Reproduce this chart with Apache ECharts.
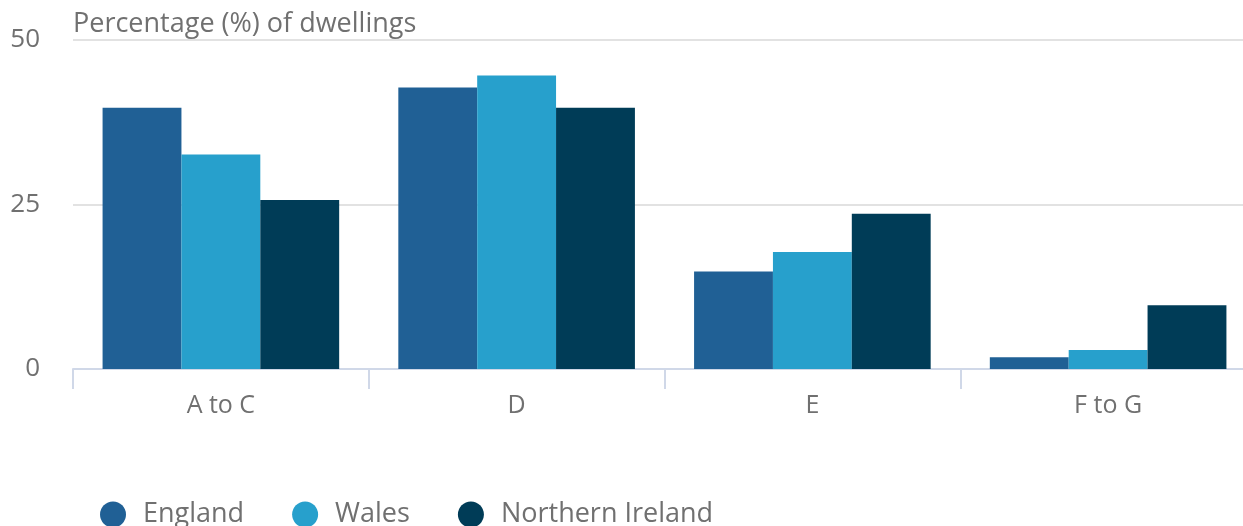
<!DOCTYPE html>
<html>
<head>
<meta charset="utf-8">
<script src="https://cdn.jsdelivr.net/npm/echarts@6/dist/echarts.min.js"></script>
<style>
  html, body { margin: 0; padding: 0; background: #fff; }
  #chart { width: 1243px; height: 526px; }
</style>
</head>
<body>
<div id="chart"></div>
<script>
var categories = ["A to C", "D", "E", "F to G"];
var seriesNames = ["England", "Wales", "Northern Ireland"];
var england = [39.7, 42.8, 14.8, 1.8];
var wales = [32.6, 44.6, 17.8, 2.9];
var northernIreland = [25.7, 39.7, 23.6, 9.7];
var yTicks = [0, 25, 50];
var colors = ["#206095", "#27a0cc", "#003c57"];

var chart = echarts.init(document.getElementById("chart"));
var font = "'Open Sans', sans-serif";
var values = [england, wales, northernIreland];
var series = [];
for (var i = 0; i < seriesNames.length; i++) {
  series.push({
    name: seriesNames[i],
    type: "bar",
    data: values[i],
    barGap: 0,
    barCategoryGap: "20%",
    itemStyle: { color: colors[i] },
    emphasis: { disabled: true }
  });
}

chart.setOption({
  animation: false,
  textStyle: { fontFamily: font },
  grid: { left: 73, top: 40, right: -13, height: 329, outerBoundsMode: "none", containLabel: false },
  legend: {
    data: seriesNames,
    left: 95,
    top: 496,
    icon: "circle",
    itemWidth: 26,
    itemHeight: 26,
    itemGap: 48,
    textStyle: { fontSize: 27, color: "#707070", fontFamily: font, padding: [0, 0, 0, 12] }
  },
  xAxis: {
    type: "category",
    data: categories,
    axisLine: { lineStyle: { color: "#d0d8e8", width: 2 } },
    axisTick: { show: true, length: 20, alignWithLabel: false, lineStyle: { color: "#d0d8e8", width: 2 } },
    axisLabel: { fontSize: 25, color: "#707070", margin: 24, fontFamily: font }
  },
  yAxis: {
    type: "value",
    min: yTicks[0],
    max: yTicks[yTicks.length - 1],
    interval: 25,
    name: "Percentage (%) of dwellings",
    nameLocation: "end",
    nameGap: 2,
    nameTextStyle: { fontSize: 27, color: "#707070", align: "left", fontFamily: font },
    axisLine: { show: false },
    axisTick: { show: false },
    splitLine: { lineStyle: { color: "#e2e2e2", width: 2 } },
    axisLabel: { fontSize: 26, color: "#707070", margin: 33, padding: [8, 0, 0, 0], fontFamily: font }
  },
  series: series
});
</script>
</body>
</html>
